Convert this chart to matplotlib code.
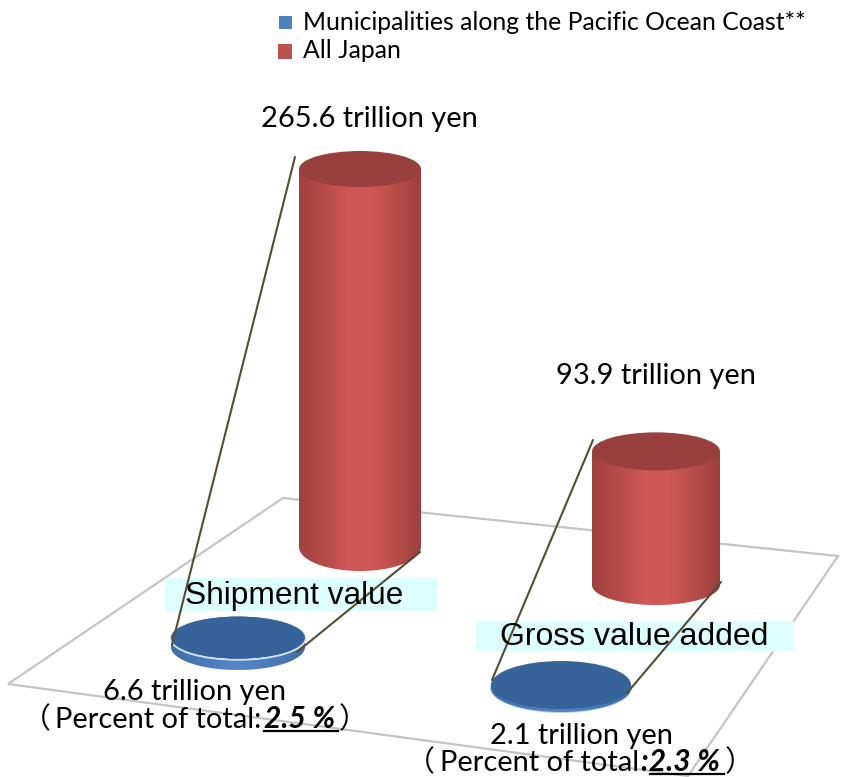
import numpy as np
import matplotlib
matplotlib.use("Agg")
import matplotlib.pyplot as plt
from matplotlib.patches import Ellipse, PathPatch, Polygon, Rectangle
from matplotlib.path import Path
from matplotlib.colors import LinearSegmentedColormap

categories = ["Shipment value", "Gross value added"]
series_names = ["Municipalities along the Pacific Ocean Coast**", "All Japan"]
pacific = [6.6, 2.1]
japan = [265.6, 93.9]
percent = ["2.5", "2.3"]

W, H = 841, 777
fig = plt.figure(figsize=(W / 100, H / 100), dpi=100)
ax = fig.add_axes([0, 0, 1, 1])
ax.set_xlim(0, W)
ax.set_ylim(H, 0)
ax.axis("off")

UI = "Lato"
px = 0.72
SCALE = 378 / 265.6


def cyl_path(cx, rx, ytop, ybase, ry_bot):
    t = np.linspace(np.pi, 0, 80)
    xs = cx + rx * np.cos(t)
    ys = ybase + ry_bot * np.sin(t)
    verts = [(cx - rx, ytop)] + list(zip(xs, ys)) + [(cx + rx, ytop), (cx - rx, ytop)]
    codes = [Path.MOVETO] + [Path.LINETO] * (len(verts) - 2) + [Path.CLOSEPOLY]
    return Path(verts, codes)


red_map = LinearSegmentedColormap.from_list(
    "r", ["#9E4240", "#B54B49", "#CF5755", "#D05855", "#B84D4A", "#9C403E"])
blue_map = LinearSegmentedColormap.from_list("b", ["#3F6FA8", "#5587C8", "#3F6FA8"])
grad = np.linspace(0, 1, 256).reshape(1, -1)


def cylinder(value, cx, rx, ybase, ry_top, ry_bot, cmap, top_colour, z=3):
    ytop = ybase - value * SCALE
    patch = PathPatch(cyl_path(cx, rx, ytop, ybase, ry_bot), fc="none", ec="none", zorder=z)
    ax.add_patch(patch)
    im = ax.imshow(grad, extent=(cx - rx, cx + rx, ybase + ry_bot, ytop),
                   cmap=cmap, aspect="auto", zorder=z, interpolation="bilinear")
    im.set_clip_path(patch)
    ax.add_patch(Ellipse((cx, ytop), 2 * rx, 2 * ry_top, fc=top_colour, ec="none", zorder=z + 0.1))
    return ytop


# floor plane
ax.add_patch(Polygon([(8, 684), (283, 498), (838, 556), (688, 776)], closed=True,
                     fc="none", ec="#C4C4C4", lw=1.6, zorder=1))

# category bands
ax.add_patch(Rectangle((165, 578), 272, 33, fc="#DDFFFF", ec="none", zorder=2))
ax.add_patch(Rectangle((476, 621), 318, 30, fc="#DDFFFF", ec="none", zorder=2))

# columns
cylinder(japan[0], 360, 61, 547, 18, 24, red_map, "#99403E")
cylinder(japan[1], 656, 64, 585, 19, 20, red_map, "#99403E")

# discs
y0 = cylinder(pacific[0], 238, 67, 647, 21, 23, blue_map, "#366399")
ax.add_patch(Ellipse((238, y0 + 1), 134, 42, fc="none", ec="#CFE3F5", lw=1.6, zorder=3.05))
ax.add_patch(Ellipse((238, y0), 132, 42, fc="#366399", ec="none", zorder=3.2))
ax.add_patch(Ellipse((561, 688), 142, 50, fc="#BFD3EA", ec="none", zorder=2.9))
cylinder(pacific[1], 561, 70, 688, 24, 24, blue_map, "#366399")

# connector lines
for a, b in [((295, 157), (172, 645)), ((420, 552), (297, 652)),
             ((593, 440), (492, 680)), ((721, 582), (627, 693))]:
    ax.plot([a[0], b[0]], [a[1], b[1]], color="#544D33", lw=1.5, zorder=5,
            solid_capstyle="round")

# band labels
ax.text(294, 596, categories[0], family="Liberation Sans", fontsize=31.6 * px,
        ha="center", va="center", zorder=6)
ax.text(634, 637, categories[1], family="Liberation Sans", fontsize=32 * px,
        ha="center", va="center", zorder=6)

# legend
ax.add_patch(Rectangle((279, 16), 13, 13, fc="#4F81BD", ec="none"))
ax.add_patch(Rectangle((278, 44), 14, 15, fc="#C0504D", ec="none"))
ax.text(303, 22, series_names[0], family=UI, fontsize=24.8 * px, ha="left", va="center")
ax.text(303, 51, series_names[1], family=UI, fontsize=24.8 * px, ha="left", va="center")

# value labels
VS = 29 * px
ax.text(369, 127, f"{japan[0]} trillion yen", family=UI, fontsize=VS, ha="center", va="baseline", zorder=6)
ax.text(656, 384, f"{japan[1]} trillion yen", family=UI, fontsize=VS, ha="center", va="baseline", zorder=6)
ax.text(195, 700, f"{pacific[0]} trillion yen", family=UI, fontsize=VS, ha="center", va="baseline", zorder=6)
ax.text(581, 744, f"{pacific[1]} trillion yen", family=UI, fontsize=VS, ha="center", va="baseline", zorder=6)

CJK = "Noto Sans CJK JP"
for (pct, xo, xt, xp, xc, yb, ux0, ux1, colon) in [
    (percent[0], 22, 55, 264, 339, 728, 264, 338, False),
    (percent[1], 406, 440, 641, 725, 771, 650, 724, True),
]:
    ax.text(xo, yb, "（", family=CJK, fontsize=VS, ha="left", va="baseline", zorder=6)
    label = "Percent of total" + ("" if colon else ":")
    ax.text(xt, yb, label, family=UI, fontsize=VS, ha="left", va="baseline", zorder=6)
    ax.text(xp, yb, (":" if colon else "") + pct + " %", family=UI, fontsize=VS * 1.03,
            weight="bold", style="italic", ha="left", va="baseline", zorder=6)
    ax.text(xc, yb, "）", family=CJK, fontsize=VS, ha="left", va="baseline", zorder=6)
    ax.plot([ux0, ux1], [yb + 3, yb + 3], color="black", lw=1.6, zorder=6)

ax.set_xlim(0, W)
ax.set_ylim(H, 0)
fig.savefig("out.png", dpi=100)
